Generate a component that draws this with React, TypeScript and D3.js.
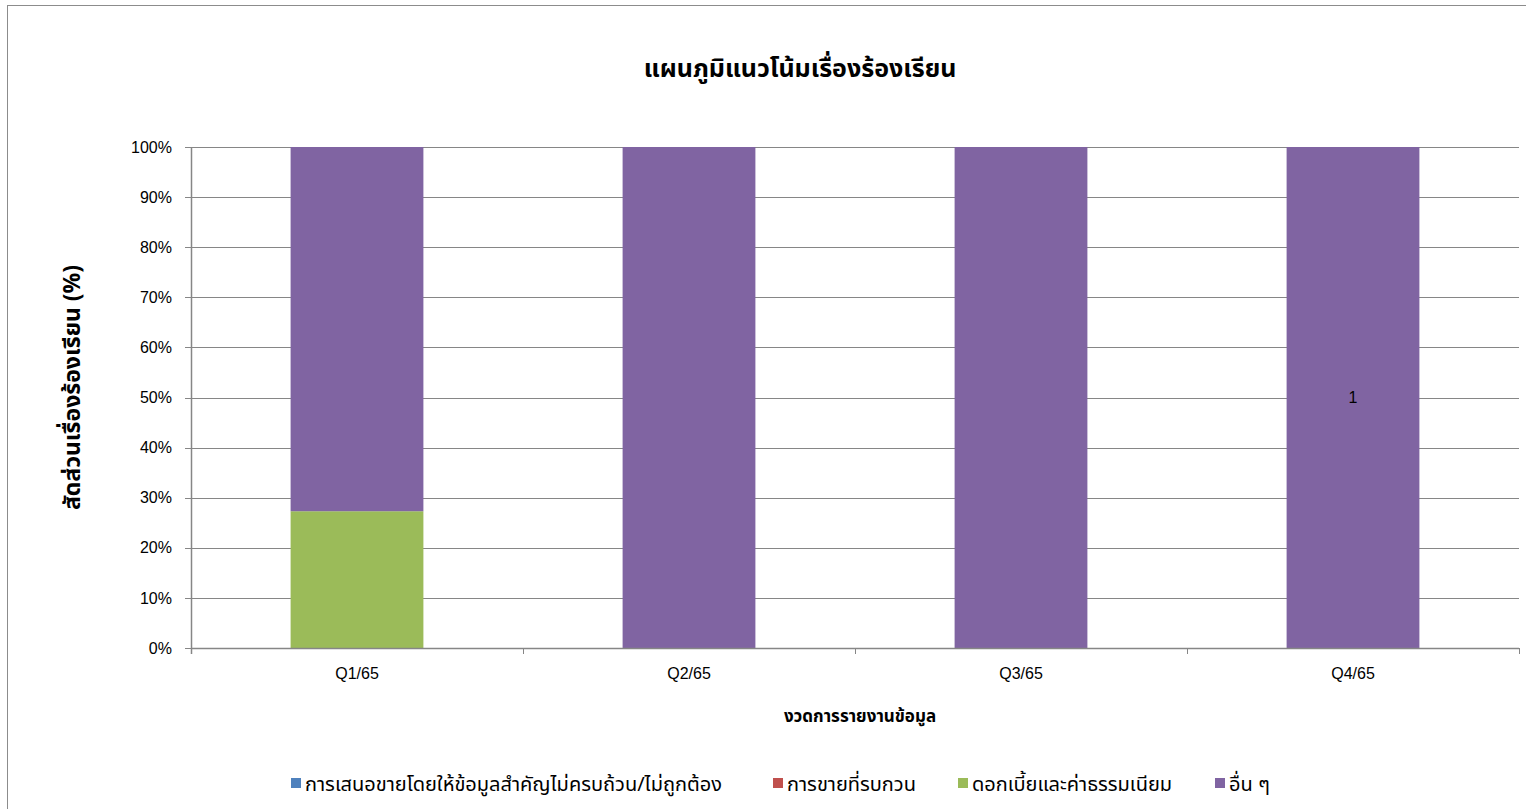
import React from 'react';
import * as d3 from 'd3';

// data (percent of complaints per quarter)
const quarters = ['Q1/65', 'Q2/65', 'Q3/65', 'Q4/65'];
const seriesNames = [
  'การเสนอขายโดยให้ข้อมูลสำคัญไม่ครบถ้วน/ไม่ถูกต้อง',
  'การขายที่รบกวน',
  'ดอกเบี้ยและค่าธรรมเนียม',
  'อื่น ๆ',
];
const seriesColors = ['#4F81BD', '#C0504D', '#9BBB59', '#8064A2'];
const misSelling = [0, 0, 0, 0];
const disturbingSales = [0, 0, 0, 0];
const interestFees = [27.3, 0, 0, 0];
const others = [72.7, 100, 100, 100];
const dataLabels = ['', '', '', '1'];
const yTicks = [0, 10, 20, 30, 40, 50, 60, 70, 80, 90, 100];

const W = 1526;
const H = 809;
const margin = { left: 191, right: 7, top: 147, bottom: 161 };
const font = "'Liberation Sans', Arial, sans-serif";
const thaiFont = "Tahoma, 'Noto Sans Thai', 'DejaVu Sans', sans-serif";

export default function App() {
  const x = d3.scaleBand().domain(quarters).range([margin.left, W - margin.right]).paddingInner(0.6).paddingOuter(0.3);
  const band = d3.scaleBand().domain(quarters).range([margin.left, W - margin.right]);
  const y = d3.scaleLinear().domain([0, 100]).range([H - margin.bottom, margin.top]);

  const table = quarters.map((q, i) => ({
    q,
    s0: misSelling[i],
    s1: disturbingSales[i],
    s2: interestFees[i],
    s3: others[i],
  }));
  const stack = d3.stack<any>().keys(['s0', 's1', 's2', 's3'])(table);

  const x0 = margin.left;
  const x1 = W - margin.right;
  const legendItems = [
    { x: 291, i: 0 },
    { x: 773, i: 1 },
    { x: 958, i: 2 },
    { x: 1215, i: 3 },
  ];

  return (
    <svg width={W} height={H} style={{ position: 'absolute', left: 0, top: 0, background: '#fff' }}>
      <rect x={7.5} y={5.5} width={W - 7} height={H} fill="#fff" stroke="#8c8c8c" strokeWidth={1} />
      <text x={800} y={77} textAnchor="middle" fontFamily={thaiFont} fontWeight="bold" fontSize={25} fill="#000">
        แผนภูมิแนวโน้มเรื่องร้องเรียน
      </text>

      {/* gridlines */}
      {yTicks.map((t) => (
        <g key={t}>
          <line x1={x0 - 6} x2={x1} y1={Math.round(y(t)) + 0.5} y2={Math.round(y(t)) + 0.5} stroke="#868686" strokeWidth={1} />
          <text x={172} y={y(t)} dy="0.35em" textAnchor="end" fontFamily={font} fontSize={16} fill="#000">
            {t}%
          </text>
        </g>
      ))}

      {/* bars */}
      {stack.map((s, si) => (
        <g key={si} fill={seriesColors[si]}>
          {s.map((d, di) =>
            d[1] - d[0] > 0 ? (
              <rect key={di} x={x(quarters[di])} y={y(d[1])} width={x.bandwidth()} height={y(d[0]) - y(d[1])} />
            ) : null
          )}
        </g>
      ))}

      {/* data labels */}
      {dataLabels.map((l, i) =>
        l ? (
          <text key={i} x={band(quarters[i])! + band.bandwidth() / 2} y={y(50)} dy="0.35em" textAnchor="middle" fontFamily={font} fontSize={16} fill="#000">
            {l}
          </text>
        ) : null
      )}

      {/* axes */}
      <line x1={x0 + 0.5} x2={x0 + 0.5} y1={y(100)} y2={y(0) + 6} stroke="#868686" strokeWidth={1.5} />
      <line x1={x0} x2={x1} y1={Math.round(y(0)) + 0.5} y2={Math.round(y(0)) + 0.5} stroke="#868686" strokeWidth={1.5} />
      {[...quarters.map((q) => band(q)!), x1].map((bx, i) => (
        <line key={i} x1={Math.round(bx) + 0.5} x2={Math.round(bx) + 0.5} y1={y(0)} y2={y(0) + 6} stroke="#868686" strokeWidth={1} />
      ))}
      {quarters.map((q) => (
        <text key={q} x={band(q)! + band.bandwidth() / 2} y={679} textAnchor="middle" fontFamily={font} fontSize={16} fill="#000">
          {q}
        </text>
      ))}

      <text x={860} y={722} textAnchor="middle" fontFamily={thaiFont} fontWeight="bold" fontSize={17} fill="#000">
        งวดการรายงานข้อมูล
      </text>
      <text transform={`translate(80, ${y(50) - 10}) rotate(-90)`} textAnchor="middle" fontFamily={thaiFont} fontWeight="bold" fontSize={23} fill="#000">
        สัดส่วนเรื่องร้องเรียน (%)
      </text>

      {/* legend */}
      {legendItems.map((it) => (
        <g key={it.i}>
          <rect x={it.x} y={778} width={10} height={10} fill={seriesColors[it.i]} />
          <text x={it.x + 14} y={791} fontFamily={thaiFont} fontSize={20} fill="#000">
            {seriesNames[it.i]}
          </text>
        </g>
      ))}
    </svg>
  );
}
